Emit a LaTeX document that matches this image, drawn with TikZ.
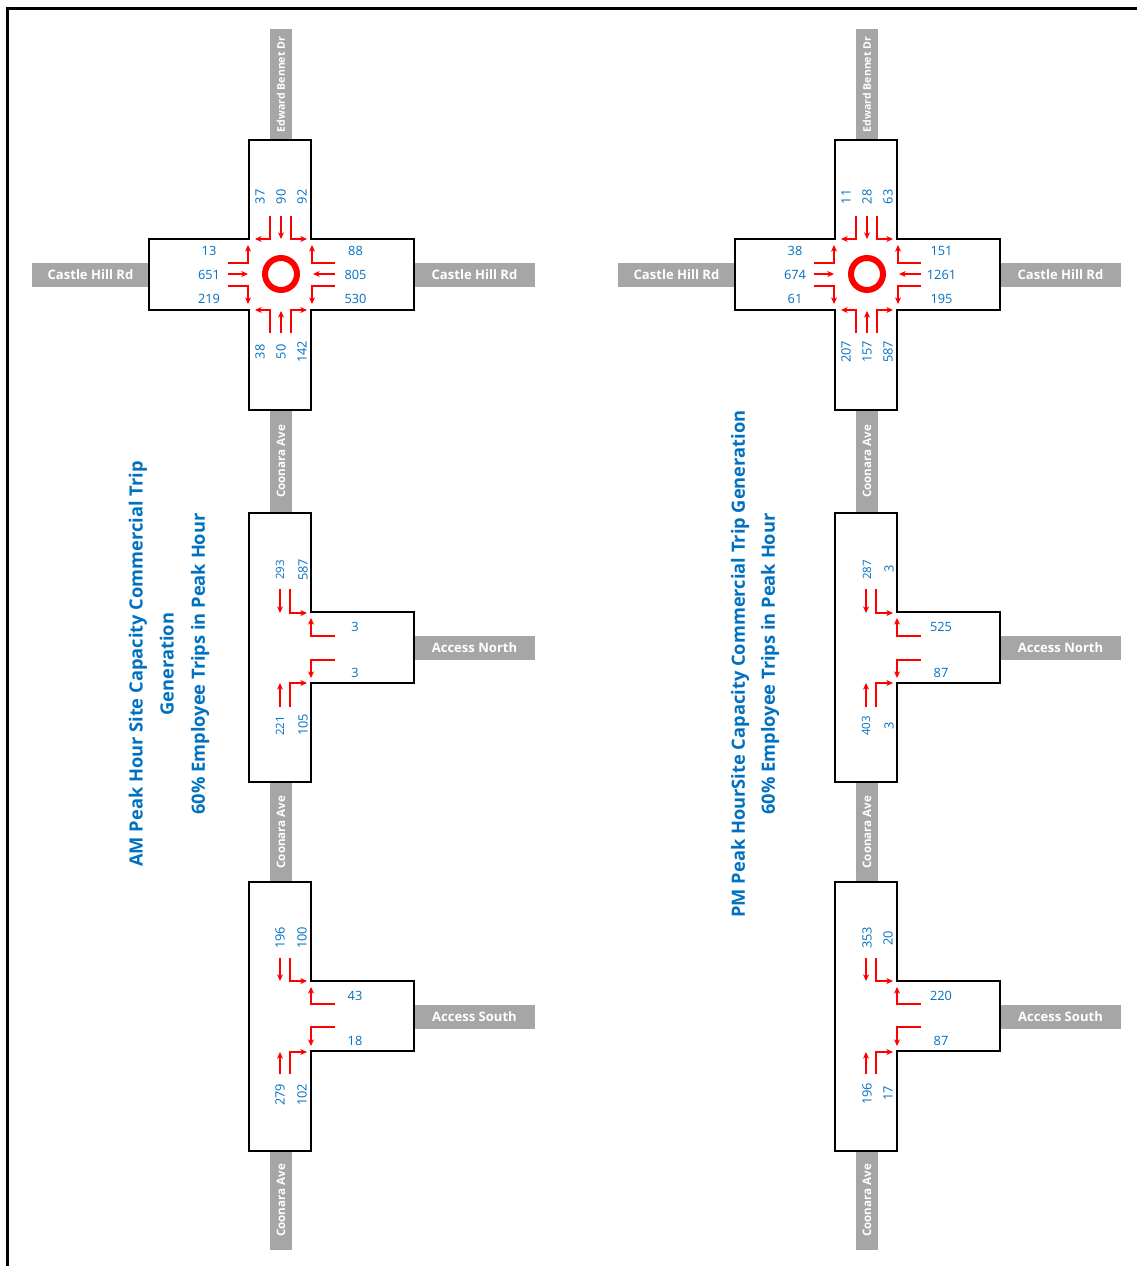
\documentclass[tikz,border=0pt]{standalone}
\usepackage{fontspec}
\setmainfont{Open Sans}
\usetikzlibrary{arrows.meta}
\definecolor{countblue}{RGB}{0,112,192}
\definecolor{roadgrey}{RGB}{166,166,166}
\begin{document}
\begin{tikzpicture}[x=0.75pt,y=0.75pt,yscale=-1,xscale=1,
	box/.style={line width=1.5pt},
	flow/.style={red,line width=0.8pt,-{Stealth[length=5pt,width=4.5pt,inset=1.5pt]}},
	count/.style={text=countblue,inner sep=0pt,font=\fontsize{9.6}{11}\selectfont},
	smallcount/.style={count,font=\fontsize{8.6}{10}\selectfont},
	roadfill/.style={fill=roadgrey},
	roadname/.style={text=white,inner sep=0pt,font=\bfseries\fontsize{9.8}{11}\selectfont},
	sidename/.style={roadname,rotate=90,font=\bfseries\fontsize{8.7}{10}\selectfont},
	heading/.style={text=countblue,align=center,rotate=90,font=\bfseries\fontsize{13.7}{23.3}\selectfont}]
	\useasboundingbox (0,0) rectangle (1137,1266);
	\draw[line width=2.25pt] (7,1266) -- (7,9) -- (1137,9);
	%% AM panel
	\begin{scope}
		% roads
		\fill[roadfill] (270,29) rectangle (292,140);
		\fill[roadfill] (32,263) rectangle (149,287);
		\fill[roadfill] (414,263) rectangle (535,287);
		\fill[roadfill] (270,410) rectangle (292,513);
		\fill[roadfill] (270,782) rectangle (292,882);
		\fill[roadfill] (270,1151) rectangle (292,1250);
		\fill[roadfill] (414,636) rectangle (535,660);
		\fill[roadfill] (414,1005) rectangle (535,1029);
		\node[sidename,font=\bfseries\fontsize{7.9}{9}\selectfont] (amEdward) at (281,84.5) {Edward Bennet Dr};
		\node[roadname] (amCastleW) at (90.5,275) {Castle Hill Rd};
		\node[roadname] (amCastleE) at (474.5,275) {Castle Hill Rd};
		\node[sidename] (amCoonaraA) at (281,461.5) {Coonara Ave};
		\node[sidename] (amCoonaraB) at (281,832) {Coonara Ave};
		\node[sidename] (amCoonaraC) at (281,1200.5) {Coonara Ave};
		\node[roadname] (amAccessN) at (474.5,648) {Access North};
		\node[roadname] (amAccessS) at (474.5,1017) {Access South};
		% roundabout
		\draw[box] (249,140) -- (311,140) -- (311,239) -- (414,239) -- (414,310) -- (311,310) -- (311,410) -- (249,410) -- (249,310) -- (149,310) -- (149,239) -- (249,239) -- cycle;
		\draw[red,line width=4.5pt] (281,274) circle (16);
		\draw[flow] (270,216) -- (270,239) -- (255,239);
		\draw[flow] (281,216) -- (281,239);
		\draw[flow] (291,216) -- (291,239) -- (307,239);
		\draw[flow] (228,263) -- (248,263) -- (248,245);
		\draw[flow] (228,274) -- (248,274);
		\draw[flow] (228,286) -- (248,286) -- (248,304);
		\draw[flow] (335,263) -- (312,263) -- (312,245);
		\draw[flow] (335,274) -- (313,274);
		\draw[flow] (335,286) -- (312,286) -- (312,304);
		\draw[flow] (270,333) -- (270,310) -- (255,310);
		\draw[flow] (281,333) -- (281,311);
		\draw[flow] (291,333) -- (291,310) -- (307,310);
		\node[count,rotate=90] (amN1) at (260,197) {37};
		\node[count,rotate=90] (amN2) at (281,197) {90};
		\node[count,rotate=90] (amN3) at (302,197) {92};
		\node[count] (amW1) at (209,251) {13};
		\node[count] (amW2) at (209,275) {651};
		\node[count] (amW3) at (209,299) {219};
		\node[count] (amE1) at (355.5,251) {88};
		\node[count] (amE2) at (355.5,275) {805};
		\node[count] (amE3) at (355.5,299) {530};
		\node[count,rotate=90] (amS1) at (260,352) {38};
		\node[count,rotate=90] (amS2) at (281,352) {50};
		\node[count,rotate=90] (amS3) at (302,352) {142};
		% Access North
		\draw[box] (249,513) -- (311,513) -- (311,612) -- (414,612) -- (414,683) -- (311,683) -- (311,782) -- (249,782) -- cycle;
		\draw[flow] (280,589) -- (280,613);
		\draw[flow] (290,589) -- (290,613) -- (307,613);
		\draw[flow] (335,636) -- (311,636) -- (311,618);
		\draw[flow] (335,660) -- (311,660) -- (311,678);
		\draw[flow] (280,707) -- (280,683);
		\draw[flow] (290,707) -- (290,683) -- (307,683);
		\node[smallcount,rotate=90] (amAN1) at (280,570) {293};
		\node[count,rotate=90] (amAN2) at (303,570) {587};
		\node[count] (amAN3) at (355,627) {3};
		\node[count] (amAN4) at (355,673) {3};
		\node[smallcount,rotate=90] (amAN5) at (280,726) {221};
		\node[count,rotate=90] (amAN6) at (303,725) {105};
		% Access South
		\begin{scope}[shift={(0,369)}]
			\draw[box] (249,513) -- (311,513) -- (311,612) -- (414,612) -- (414,682) -- (311,682) -- (311,782) -- (249,782) -- cycle;
			\draw[flow] (280,589) -- (280,612);
			\draw[flow] (290,589) -- (290,612) -- (307,612);
			\draw[flow] (335,635) -- (311,635) -- (311,618);
			\draw[flow] (335,658) -- (311,658) -- (311,677);
			\draw[flow] (280,705) -- (280,683);
			\draw[flow] (290,705) -- (290,683) -- (307,683);
			\node[count,rotate=90] (amAS1) at (280,569) {196};
			\node[count,rotate=90] (amAS2) at (302,569) {100};
			\node[count] (amAS3) at (355,627) {43};
			\node[count] (amAS4) at (355,672) {18};
			\node[count,rotate=90] (amAS5) at (280,726) {279};
			\node[count,rotate=90] (amAS6) at (302,726) {102};
		\end{scope}
		\node[heading] (amTitle) at (169,664) {AM Peak Hour Site Capacity Commercial Trip\\Generation\\60\% Employee Trips in Peak Hour};
	\end{scope}
	%% PM panel
	\begin{scope}[shift={(586,0)}]
		% roads
		\fill[roadfill] (270,29) rectangle (292,140);
		\fill[roadfill] (32,263) rectangle (149,287);
		\fill[roadfill] (414,263) rectangle (535,287);
		\fill[roadfill] (270,410) rectangle (292,513);
		\fill[roadfill] (270,782) rectangle (292,882);
		\fill[roadfill] (270,1151) rectangle (292,1250);
		\fill[roadfill] (414,636) rectangle (535,660);
		\fill[roadfill] (414,1005) rectangle (535,1029);
		\node[sidename,font=\bfseries\fontsize{7.9}{9}\selectfont] (pmEdward) at (281,84.5) {Edward Bennet Dr};
		\node[roadname] (pmCastleW) at (90.5,275) {Castle Hill Rd};
		\node[roadname] (pmCastleE) at (474.5,275) {Castle Hill Rd};
		\node[sidename] (pmCoonaraA) at (281,461.5) {Coonara Ave};
		\node[sidename] (pmCoonaraB) at (281,832) {Coonara Ave};
		\node[sidename] (pmCoonaraC) at (281,1200.5) {Coonara Ave};
		\node[roadname] (pmAccessN) at (474.5,648) {Access North};
		\node[roadname] (pmAccessS) at (474.5,1017) {Access South};
		% roundabout
		\draw[box] (249,140) -- (311,140) -- (311,239) -- (414,239) -- (414,310) -- (311,310) -- (311,410) -- (249,410) -- (249,310) -- (149,310) -- (149,239) -- (249,239) -- cycle;
		\draw[red,line width=4.5pt] (281,274) circle (16);
		\draw[flow] (270,216) -- (270,239) -- (255,239);
		\draw[flow] (281,216) -- (281,239);
		\draw[flow] (291,216) -- (291,239) -- (307,239);
		\draw[flow] (228,263) -- (248,263) -- (248,245);
		\draw[flow] (228,274) -- (248,274);
		\draw[flow] (228,286) -- (248,286) -- (248,304);
		\draw[flow] (335,263) -- (312,263) -- (312,245);
		\draw[flow] (335,274) -- (313,274);
		\draw[flow] (335,286) -- (312,286) -- (312,304);
		\draw[flow] (270,333) -- (270,310) -- (255,310);
		\draw[flow] (281,333) -- (281,311);
		\draw[flow] (291,333) -- (291,310) -- (307,310);
		\node[count,rotate=90] (pmN1) at (260,197) {11};
		\node[count,rotate=90] (pmN2) at (281,197) {28};
		\node[count,rotate=90] (pmN3) at (302,197) {63};
		\node[count] (pmW1) at (209,251) {38};
		\node[count] (pmW2) at (209,275) {674};
		\node[count] (pmW3) at (209,299) {61};
		\node[count] (pmE1) at (355.5,251) {151};
		\node[count] (pmE2) at (355.5,275) {1261};
		\node[count] (pmE3) at (355.5,299) {195};
		\node[count,rotate=90] (pmS1) at (260,352) {207};
		\node[count,rotate=90] (pmS2) at (281,352) {157};
		\node[count,rotate=90] (pmS3) at (302,352) {587};
		% Access North
		\draw[box] (249,513) -- (311,513) -- (311,612) -- (414,612) -- (414,683) -- (311,683) -- (311,782) -- (249,782) -- cycle;
		\draw[flow] (280,589) -- (280,613);
		\draw[flow] (290,589) -- (290,613) -- (307,613);
		\draw[flow] (335,636) -- (311,636) -- (311,618);
		\draw[flow] (335,660) -- (311,660) -- (311,678);
		\draw[flow] (280,707) -- (280,683);
		\draw[flow] (290,707) -- (290,683) -- (307,683);
		\node[smallcount,rotate=90] (pmAN1) at (281,570) {287};
		\node[count,rotate=90] (pmAN2) at (303,569) {3};
		\node[count] (pmAN3) at (355,627) {525};
		\node[count] (pmAN4) at (355,673) {87};
		\node[smallcount,rotate=90] (pmAN5) at (280,726) {403};
		\node[count,rotate=90] (pmAN6) at (303,726) {3};
		% Access South
		\begin{scope}[shift={(0,369)}]
			\draw[box] (249,513) -- (311,513) -- (311,612) -- (414,612) -- (414,682) -- (311,682) -- (311,782) -- (249,782) -- cycle;
			\draw[flow] (280,589) -- (280,612);
			\draw[flow] (290,589) -- (290,612) -- (307,612);
			\draw[flow] (335,635) -- (311,635) -- (311,618);
			\draw[flow] (335,658) -- (311,658) -- (311,677);
			\draw[flow] (280,705) -- (280,683);
			\draw[flow] (290,705) -- (290,683) -- (307,683);
			\node[count,rotate=90] (pmAS1) at (281,569) {353};
			\node[count,rotate=90] (pmAS2) at (302,569) {20};
			\node[count] (pmAS3) at (355,627) {220};
			\node[count] (pmAS4) at (355,672) {87};
			\node[count,rotate=90] (pmAS5) at (281,725) {196};
			\node[count,rotate=90] (pmAS6) at (302,724) {17};
		\end{scope}
		\node[heading,font=\bfseries\fontsize{13.7}{22.5}\selectfont] (pmTitle) at (169,664) {PM Peak HourSite Capacity Commercial Trip Generation\\60\% Employee Trips in Peak Hour};
	\end{scope}
\end{tikzpicture}
\end{document}
